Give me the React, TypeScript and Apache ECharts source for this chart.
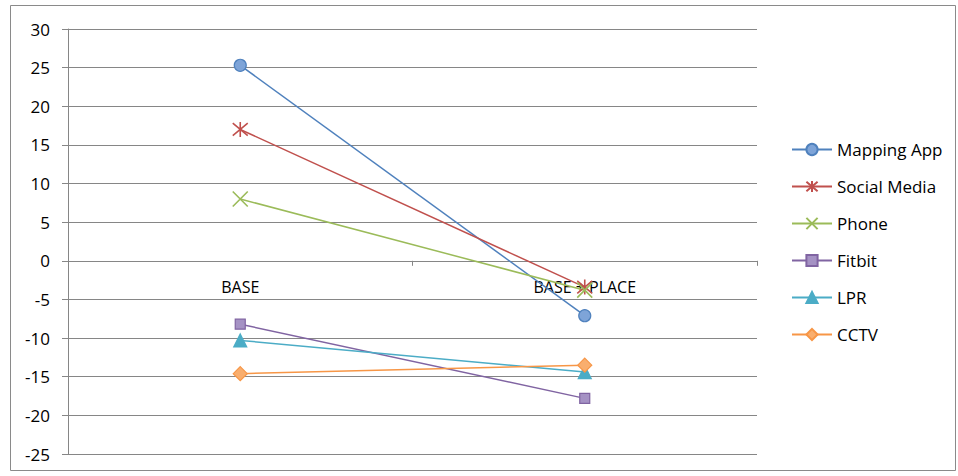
import React, { useEffect, useRef } from "react";
import * as echarts from "echarts";

const categories = ["BASE", "BASE + PLACE"];
const seriesNames = ["Mapping App", "Social Media", "Phone", "Fitbit", "LPR", "CCTV"];
const mappingApp = [25.3, -7.1];
const socialMedia = [17.0, -3.4];
const phone = [8.0, -3.8];
const fitbit = [-8.2, -17.8];
const lpr = [-10.3, -14.4];
const cctv = [-14.6, -13.5];
const yTicks = { min: -25, max: 30, interval: 5 };

const FONT = "'Open Sans', Lato, sans-serif";

export default function App() {
  const ref = useRef<HTMLDivElement>(null);
  useEffect(() => {
    if (!ref.current) return;
    const chart = echarts.init(ref.current, undefined, { renderer: "svg" });
    const asterisk = "path://M0,0L10,10M10,0L0,10M5,-1L5,11";
    const cross = "path://M0,0L10,10M10,0L0,10";
    const mk = (
      name: string,
      data: number[],
      color: string,
      fill: string,
      symbol: string,
      size: number,
      bw: number
    ) => ({
      name,
      type: "line",
      data,
      symbol,
      symbolSize: size,
      lineStyle: { color, width: 1.5 },
      itemStyle: { color: fill, borderColor: color, borderWidth: bw },
    });
    // zero line sits (30 / 55) of the plot height below the top
    const plotTop = 29;
    const plotBottom = 22;
    const plotH = 476 - plotTop - plotBottom;
    const zeroOffset = -(plotH * (0 - yTicks.min)) / (yTicks.max - yTicks.min);
    chart.setOption({
      animation: false,
      textStyle: { fontFamily: FONT },
      graphic: [
        {
          type: "rect",
          shape: { x: 10.5, y: 5.5, width: 945, height: 465 },
          style: { fill: "none", stroke: "#8a8a8a", lineWidth: 1 },
          silent: true,
        },
      ],
      grid: {
        left: 68,
        right: 201,
        top: plotTop,
        bottom: plotBottom,
        containLabel: false,
        outerBoundsMode: "none",
      },
      legend: {
        orient: "vertical",
        left: 791,
        top: 141,
        padding: 0,
        itemWidth: 40,
        itemHeight: 14,
        itemGap: 20,
        data: seriesNames,
        textStyle: { fontFamily: FONT, fontSize: 17, color: "#000" },
      },
      xAxis: {
        type: "category",
        data: categories,
        boundaryGap: true,
        offset: zeroOffset,
        axisLine: { onZero: false, lineStyle: { color: "#868686", width: 1 } },
        axisTick: { show: true, length: 5, lineStyle: { color: "#868686" } },
        axisLabel: { color: "#000", fontSize: 16, fontFamily: FONT, margin: 18 },
        splitLine: { show: false },
      },
      yAxis: {
        type: "value",
        min: yTicks.min,
        max: yTicks.max,
        interval: yTicks.interval,
        axisLine: { show: true, lineStyle: { color: "#868686", width: 1 } },
        axisTick: { show: true, length: 6, lineStyle: { color: "#868686" } },
        axisLabel: { color: "#000", fontSize: 17, fontFamily: FONT, margin: 18 },
        splitLine: { show: true, lineStyle: { color: "#868686", width: 1 } },
      },
      series: [
        mk(seriesNames[0], mappingApp, "#4F81BD", "#7EA4D8", "circle", 12, 1.2),
        mk(seriesNames[1], socialMedia, "#C0504D", "#C0504D", asterisk, 15, 1.6),
        mk(seriesNames[2], phone, "#9BBB59", "#9BBB59", cross, 15, 1.6),
        mk(seriesNames[3], fitbit, "#8064A2", "#A592C4", "rect", 10, 1.2),
        mk(seriesNames[4], lpr, "#4BACC6", "#4BACC6", "triangle", 13, 1.2),
        mk(seriesNames[5], cctv, "#F79646", "#F9AE6E", "diamond", 14, 1.2),
      ],
    });
    return () => chart.dispose();
  }, []);
  return (
    <div
      ref={ref}
      style={{ position: "absolute", left: 0, top: 0, width: 958, height: 476, background: "#fff" }}
    />
  );
}
